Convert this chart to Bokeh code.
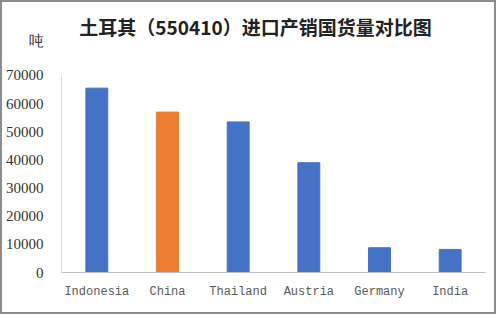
from bokeh.plotting import figure
from bokeh.models import Label, Range1d, FactorRange, ColumnDataSource
from bokeh.embed import file_html
from bokeh.resources import INLINE

countries = ["Indonesia", "China", "Thailand", "Austria", "Germany", "India"]
volumes = [65500, 57000, 53500, 39000, 8800, 8200]
colors = ["#4472C4", "#ED7D31", "#4472C4", "#4472C4", "#4472C4", "#4472C4"]
y_ticks = [0, 10000, 20000, 30000, 40000, 50000, 60000, 70000]
unit_text = "吨"
title_text = "土耳其（550410）进口产销国货量对比图"

src = ColumnDataSource(dict(x=countries, top=volumes, color=colors))

# frame extends above the axis so the title and unit can sit inside it
p = figure(width=496, height=314, x_range=FactorRange(*countries, range_padding=0),
           y_range=Range1d(0, 93800), output_backend="svg", toolbar_location=None,
           min_border_left=54, min_border_right=13, min_border_top=6, min_border_bottom=44)
p.vbar(x="x", top="top", width=0.31, color="color", source=src)

p.outline_line_color = None
p.xgrid.visible = False
p.ygrid.visible = False
p.yaxis.ticker = y_ticks + [82400]
p.yaxis.major_label_overrides = {82400: unit_text}
p.yaxis.bounds = (0, 70000)
p.yaxis.major_tick_line_color = None
p.yaxis.minor_tick_line_color = None
p.yaxis.axis_line_color = "#d9d9d9"
p.yaxis.major_label_text_font = "Liberation Serif"
p.yaxis.major_label_text_font_size = "15px"
p.yaxis.major_label_text_color = "#333333"
p.yaxis.major_label_standoff = 12
p.xaxis.major_tick_line_color = None
p.xaxis.axis_line_color = "#bfbfbf"
p.xaxis.major_label_text_font = "Liberation Mono"
p.xaxis.major_label_text_font_size = "12px"
p.xaxis.major_label_text_color = "#595959"
p.xaxis.major_label_standoff = 6

p.add_layout(Label(x=194, y=87500, x_units="screen", y_units="data", text=title_text,
                   text_align="center", text_baseline="middle",
                   text_font="Noto Sans CJK SC", text_font_size="19px", text_font_style="bold",
                   text_color="#222222"))

p.styles = {"border": "2px solid #8c8c8c"}

open("out.html", "w").write(file_html(p, INLINE))
